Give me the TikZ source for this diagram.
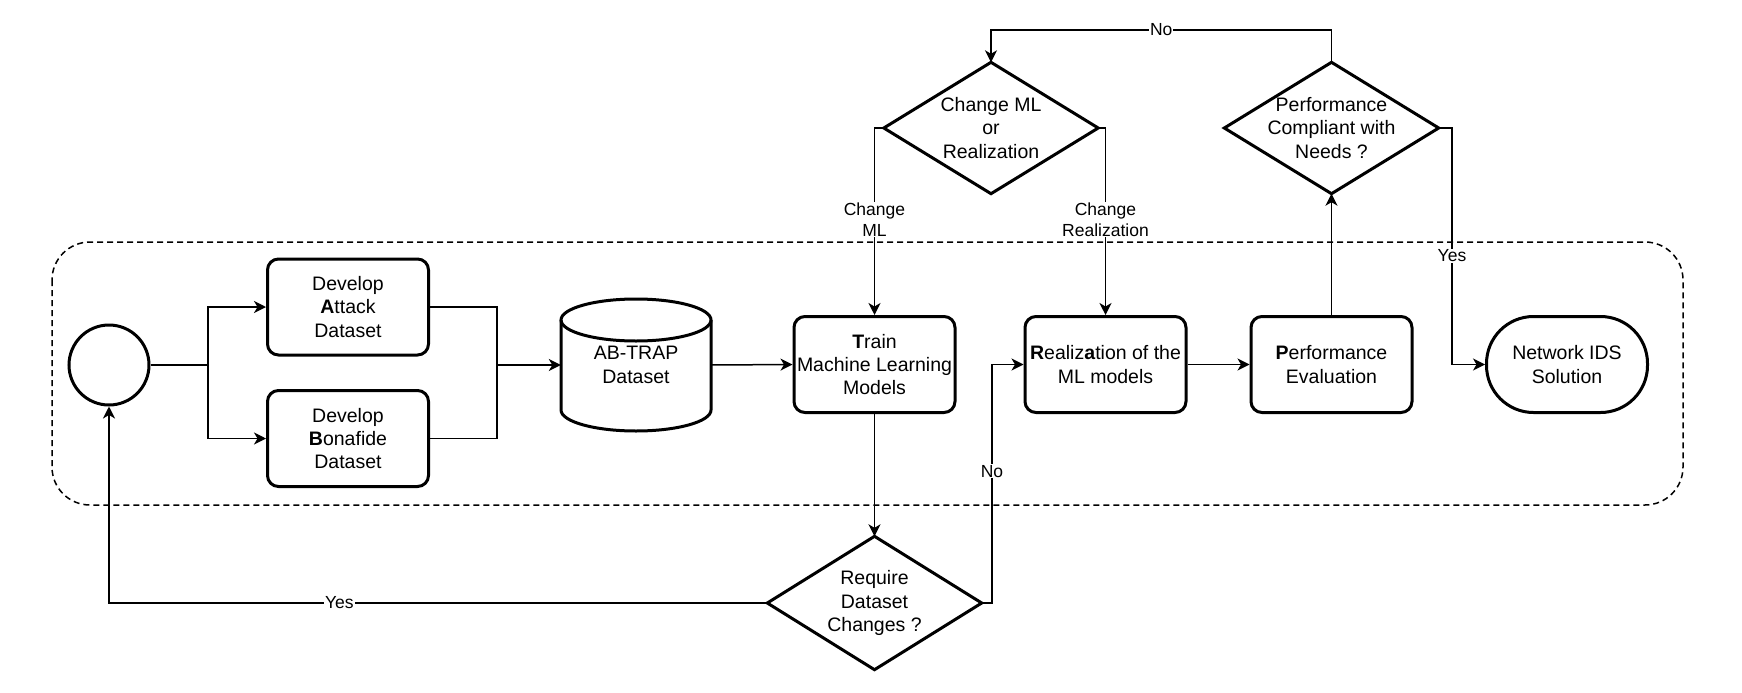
\documentclass[tikz,border=0pt]{standalone}
\usepackage{fontspec}
\setmainfont{Liberation Sans}
\usetikzlibrary{arrows.meta}
\begin{document}
\begin{tikzpicture}[x=1pt,y=-1pt,
  box/.style={draw, line width=3pt, rounded corners=11pt, minimum width=161pt, minimum height=96pt,
    align=center, inner sep=0pt, font=\fontsize{19.5}{23.4}\selectfont},
  dia/.style={minimum width=214pt, minimum height=131pt, inner sep=0pt, align=center,
    font=\fontsize{19.5}{23.4}\selectfont},
  diaborder/.style={line width=3pt, line join=miter},
  conn/.style={line width=1.5pt},
  arr/.style={conn, -{Stealth[length=12pt,width=12pt,inset=3.5pt]}},
  lbl/.style={fill=white, inner sep=1pt, align=center, font=\fontsize{17.5}{20.5}\selectfont},
  frame/.style={line width=1.5pt, dash pattern=on 6pt off 4pt, rounded corners=38pt}
]
\useasboundingbox (0,0) rectangle (1742,693);
\fill[white] (0,0) rectangle (1742,693);

% group frame
\draw[frame] (52,242) rectangle (1683,505);

% nodes
\node[circle, draw, line width=3pt, minimum size=80pt, inner sep=0pt] (start) at (109,365) {};
\node[box] (att) at (348,307) {Develop\\\textbf{A}ttack\\Dataset};
\node[box] (bon) at (348,438.5) {Develop\\\textbf{B}onafide\\Dataset};
\node[minimum width=150pt, minimum height=132pt, inner sep=0pt, align=center,
  font=\fontsize{19.5}{23.4}\selectfont] (cyl) at (636,365) {AB-TRAP\\Dataset};
\draw[line width=3pt] (561,320) -- (561,410)
  arc[start angle=180, end angle=360, x radius=75pt, y radius=21pt] -- (711,320);
\draw[line width=3pt] (636,320) ellipse [x radius=75pt, y radius=21pt];
\node[box] (train) at (874.5,364.5) {\textbf{T}rain\\Machine Learning\\Models};
\node[box] (real) at (1105.5,364.5) {\textbf{R}ealiz\textbf{a}tion of the\\ML models};
\node[box] (perf) at (1331.5,364.5) {\textbf{P}erformance\\Evaluation};
\node[box, rounded corners=47pt] (net) at (1567,364.5) {Network IDS\\Solution};

\node[dia] (cml) at (991,128) {Change ML\\or\\Realization};
\draw[diaborder] (cml.north) -- (cml.east) -- (cml.south) -- (cml.west) -- cycle;
\node[dia] (comp) at (1331.5,128) {Performance\\Compliant with\\Needs ?};
\draw[diaborder] (comp.north) -- (comp.east) -- (comp.south) -- (comp.west) -- cycle;
\node[dia, minimum height=133pt] (req) at (874.5,603) {Require\\Dataset\\Changes ?};
\draw[diaborder] (req.north) -- (req.east) -- (req.south) -- (req.west) -- cycle;

% helper coordinates
\coordinate (split) at (208,365);
\coordinate (merge) at (497,365);
\coordinate (nob) at (992,603);
\coordinate (ntop) at (1331.5,30);
\coordinate (ycorner) at (1452,128);

% connectors
\draw[conn] (start.east) -- (split);
\draw[arr] (split) |- (att.west);
\draw[arr] (split) |- (bon.west);
\draw[conn] (att.east) -| (merge);
\draw[conn] (bon.east) -| (merge);
\draw[arr] (merge) -- (cyl.west);
\draw[arr] (cyl.east) -- (train.west);
\draw[arr] (train.south) -- (req.north);
\draw[arr] (req.west) -| node[lbl, pos=0.325] {Yes} (start.south);
\draw[arr] (req.east) -- (nob) |- node[lbl, pos=0.276] {No} (real.west);
\draw[arr] (real.east) -- (perf.west);
\draw[arr] (perf.north) -- (comp.south);
\draw[arr] (comp.north) -- (ntop) -| node[lbl, pos=0.25] {No} (cml.north);
\draw[arr] (cml.west) -| node[lbl, pos=0.745] {Change\\ML} (train.north);
\draw[arr] (cml.east) -| node[lbl, pos=0.745] {Change\\Realization} (real.north);
\draw[arr] (comp.east) -- (ycorner) |- node[lbl, pos=0.27] {Yes} (net.west);
\end{tikzpicture}
\end{document}
